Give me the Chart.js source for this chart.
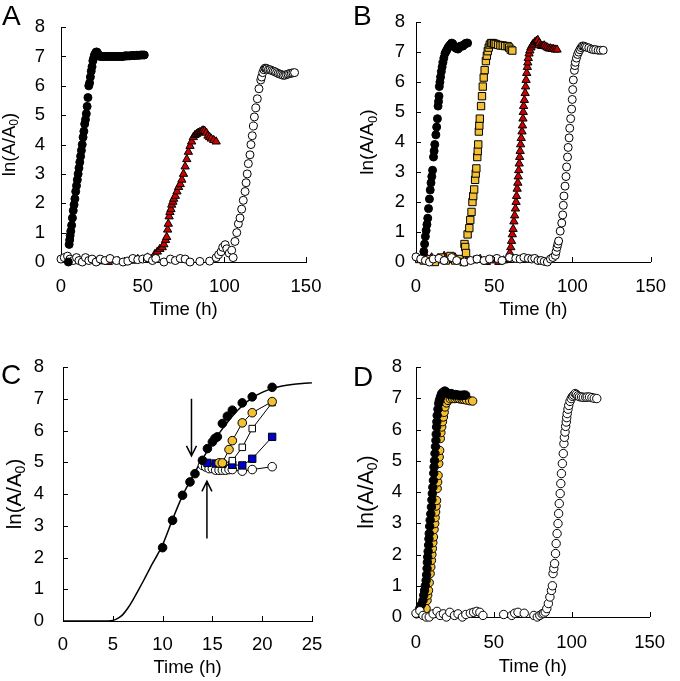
<!DOCTYPE html>
<html>
<head>
<meta charset="utf-8">
<script src="https://cdn.jsdelivr.net/npm/chart.js@4.4.1/dist/chart.umd.min.js"></script>
<style>
  body { margin: 0; background: #fff; width: 680px; height: 681px; position: relative; overflow: hidden;
         font-family: "Liberation Sans", Arial, sans-serif; }
  canvas { position: absolute; }
  .lab { position: absolute; font-size: 28px; line-height: 28px; color: #000; }
</style>
</head>
<body>
<canvas id="cA" width="340" height="330" style="left:0;top:0"></canvas>
<canvas id="cB" width="340" height="330" style="left:340px;top:0"></canvas>
<canvas id="cC" width="340" height="351" style="left:0;top:330px"></canvas>
<canvas id="cD" width="340" height="351" style="left:340px;top:330px"></canvas>
<div class="lab" style="left:2px;top:2px">A</div>
<div class="lab" style="left:353px;top:2px">B</div>
<div class="lab" style="left:1px;top:361px">C</div>
<div class="lab" style="left:353px;top:363px">D</div>
<script>
// ---- panel A ----
var aBlackT = [4.5,5,5.3,5.6,6,6.5,7,7.5,8,8.5,9,9.5,10,10.5,11,11.5,12,12.5,13,13.5,14,14.5,15,15.5,16,16.5,17,17.5,18,18.5,19,19.5,20,20.5,21,21.5,22,22.5,23,24,25,26,27,28,29,30,31,32,33,34,35,36,37,38,39,40,41,42,43,44,45,46,47,48,49,50,51];
var aBlackV = [0,0.6,0.75,0.9,1.05,1.25,1.5,1.75,1.95,2.15,2.4,2.6,2.8,3.0,3.2,3.4,3.6,3.8,4.0,4.25,4.45,4.7,4.85,5.05,5.3,5.6,6.0,6.1,6.3,6.5,6.65,6.85,6.95,7.05,7.1,7.15,7.15,7.1,7.05,7,7,7,7,7,7,7,7,7,7,7,7,7,7,7,7.02,7.02,7.02,7.02,7.03,7.03,7.03,7.04,7.04,7.04,7.05,7.05,7.05];
var aRedT = [24,29,35,39,43.5,47,50,53,55.5,57.5,59,60.5,62,63,64,64.7,65.3,65.7,66.2,66.7,67.3,67.8,68.5,69,70,71,72,73,74,75,76,77,78,79,80,81,82,83,84,85,86,87,88,89,90,91,92,93.5,95];
var aRedV = [0.02,0,0.03,0,0.04,0.1,0.08,0.15,0.1,0.27,0.35,0.44,0.5,0.6,0.75,0.85,1.1,1.3,1.55,1.7,1.8,1.95,2.05,2.15,2.25,2.4,2.55,2.65,2.8,3.0,3.25,3.5,3.75,3.95,4.1,4.25,4.32,4.36,4.4,4.42,4.45,4.48,4.46,4.4,4.3,4.25,4.2,4.15,4.1];
var aOpenT = [0,2,4,5.5,7.5,9.5,11,13,15,17,19,21.5,24,27,30,34,38,41,44,47,50,53,56,58,63,67,70,73,76,79,85,91,95,96.5,98,99,
  100.5,101.5,103,104.5,105.4,106.5,107.6,108.6,109.6,110.6,111.6,112.7,113.3,114,114.7,115.7,116.3,117.1,117.8,118.4,119.3,120.2,121.2,122.3,122.8,123.5,124.2,124.9,125.5,126,127,128,129,130,131,132,133,134,135,136,137,138,139,140,141,142,143];
var aOpenV = [0.1,0.15,0.2,0.1,0.05,0.15,0.05,0,0.15,0.05,0.1,0,0.1,0.05,0.12,0.05,0,0.03,0.12,0.08,0.1,0.15,0.05,0.12,0,0.1,0.05,0.12,0.1,0,0.02,0.03,0.15,0.25,0.35,0.5,
  0.59,0.45,0.3,0.4,0.15,0.7,1.0,1.3,1.5,1.8,2.1,2.4,2.7,3.0,3.35,3.65,4.0,4.3,4.63,4.94,5.25,5.56,5.9,6.2,6.3,6.45,6.55,6.6,6.6,6.58,6.55,6.55,6.52,6.5,6.48,6.45,6.42,6.4,6.38,6.36,6.36,6.38,6.4,6.42,6.43,6.44,6.45];

// ---- panel B ----
var bBlackT = [4.5,5,5.5,6,6.5,7,7.5,8,8.6,9.1,9.6,10.1,10.6,11.2,11.6,12,12.7,13.2,13.7,14.1,14.4,14.7,14.9,15.3,15.7,16.2,16.7,17.2,17.8,18.5,19.2,19.8,20.5,21.2,22,22.8,23.5,24.2,25,25.9,26.8,27.6,28.4,29.2,30,30.8,31.6,32.4,33];
var bBlackV = [0.12,0.35,0.6,0.85,1.05,1.25,1.46,1.78,2.1,2.4,2.64,2.85,3.06,3.5,3.7,3.92,4.24,4.5,4.78,5.2,5.35,5.53,5.85,6.0,6.17,6.35,6.5,6.65,6.8,6.95,7.02,7.08,7.15,7.2,7.25,7.3,7.28,7.2,7.15,7.12,7.1,7.15,7.2,7.2,7.2,7.25,7.28,7.3,7.3];
var bYellowT = [2,5,8,12,16,19,22,25,28,30.5,31,31.5,32,33,34.1,34.7,35.5,36.1,36.6,37.2,37.8,38.2,38.6,39.2,39.5,39.8,40.2,40.5,40.8,41.6,42.2,42.7,43.3,43.9,44.7,45.3,45.9,46.5,47.2,48,49,50,51,52.5,54,55.5,57,58.6,59.6,60.6,61.6];
var bYellowV = [0.1,0.05,0.1,0,0.15,0.05,0.2,0.05,0.1,0,0.6,0.5,0.3,0.92,1.13,1.4,1.67,2.0,2.2,2.42,2.74,2.95,3.12,3.5,3.7,3.92,4.35,4.55,4.78,5.2,5.53,5.85,6.15,6.4,6.7,6.88,7.03,7.15,7.25,7.3,7.3,7.28,7.27,7.24,7.22,7.22,7.2,7.2,7.15,7.08,7.05];
var bRedT = [3,6,10,14,18,21,25,29,33,37,41,45,49,53,56,58.5,60,60.6,61.1,61.6,62.1,62.6,63.1,63.6,64,64.3,64.7,65.1,65.4,65.7,66,66.3,66.6,66.9,67.3,67.8,68.1,68.4,68.6,68.8,69.3,69.8,70.1,70.4,70.8,71.2,71.5,71.8,72.3,72.8,73.5,74.2,75,76,77,77.9,78.8,79.7,80.5,81.3,82,83,84,85,86,87,88,89,90.2];
var bRedV = [0.1,0.2,0.15,0.05,0.2,0.1,0.15,0.05,0.1,0.05,0.1,0,0.05,0,0.05,0.1,0.3,0.49,0.7,0.92,1.1,1.35,1.55,1.78,2.0,2.2,2.44,2.64,2.85,3.06,3.28,3.5,3.7,3.92,4.13,4.35,4.55,4.78,5.0,5.2,5.4,5.63,5.85,6.07,6.3,6.5,6.65,6.8,6.95,7.05,7.15,7.22,7.28,7.33,7.37,7.4,7.3,7.22,7.2,7.2,7.22,7.18,7.15,7.12,7.12,7.1,7.1,7.08,7.08];
var bOpenT = [0,3,6,8.6,11,14.7,18,22.8,26,31,35,39,43.5,47,51.7,55,59.8,63.8,66.5,69,71.8,74,75.9,78,80,82,84,86,87.5,
  89.1,89.6,90.2,90.7,91.2,92.2,93.2,93.8,94.2,94.6,95.3,95.9,96.3,96.9,97.3,97.9,98.3,98.9,99.5,99.9,100.2,100.6,101.3,101.6,101.9,102.6,103.3,104,104.8,105.6,106.4,107.2,108,109,110.5,112,113.5,115,116.5,118,119.7];
var bOpenV = [0.17,0.1,0.05,0,0.1,0.12,0.05,0.15,0.05,0,0.05,0.1,0.05,0.1,0.12,0.05,0.15,0.12,0.1,0.15,0.12,0.1,0.12,0.05,0.05,0.02,0,0.1,0.15,
  0.22,0.35,0.49,0.6,0.7,1.03,1.3,1.57,1.89,2.2,2.53,2.85,3.17,3.5,3.82,4.14,4.46,4.78,5.1,5.42,5.75,6.07,6.39,6.55,6.66,6.8,6.92,7.0,7.08,7.15,7.2,7.2,7.18,7.16,7.14,7.1,7.08,7.08,7.06,7.06,7.06];

// ---- panel C ----
var cFitT = [0,4,5,5.5,6,6.5,7,7.5,8,8.5,9,9.5,10,11,12,13,14,15,16,17,18,19,20,21,22,23,24,25];
var cFitV = [0,0,0.02,0.08,0.2,0.4,0.65,0.93,1.22,1.52,1.82,2.1,2.4,3.2,3.95,4.55,5.1,5.6,6.05,6.45,6.78,7.03,7.2,7.32,7.4,7.45,7.48,7.5];
var cBlackT = [10,11,12,12.75,13.25,14,14.5,15,15.25,15.5,16,16.5,17,18,19,21];
var cBlackV = [2.31,3.17,3.96,4.38,4.64,5.06,5.43,5.64,5.75,5.8,6.22,6.45,6.64,6.87,7.06,7.36];
var cYellowT = [15.67,16,16.67,17,18,19,21];
var cYellowV = [4.98,4.98,5.4,5.68,6.24,6.56,6.91];
var cSqT = [16,17,18,19,21];
var cSqV = [4.95,5.05,5.47,6.06,6.88];
var cBlueT = [14.5,15.33,16,17,18,19,21];
var cBlueV = [4.98,4.96,4.95,4.92,4.9,5.11,5.8];
var cOpenT = [14,14.33,14.67,15,15.33,15.67,16,16.33,16.67,17,18,19,21];
var cOpenV = [4.9,4.85,4.8,4.8,4.75,4.75,4.75,4.75,4.77,4.77,4.72,4.77,4.86];
var arrowT = [12.9, 14.45];
var arrowFrom = [7.0, 2.6];
var arrowTo = [5.2, 4.4];

// ---- panel D ----
var dBlackT = [2.4,3.5,4.5,5,5.5,6,6.5,6.8,7.1,7.3,7.5,7.8,8.1,8.3,8.5,8.8,9.1,9.5,9.9,10.2,10.5,10.8,11.2,11.4,11.6,11.9,12.2,12.5,12.8,13,13.2,13.4,13.6,14.1,14.6,15,15.5,16,16.5,17.5,18.5,19.5,20.5,21.6,22.7,24,25.3,26.5,27.8,29,30,31,31.9];
var dBlackV = [0.27,0.4,0.53,0.7,0.85,1.0,1.17,1.35,1.55,1.75,1.92,2.1,2.3,2.5,2.67,2.9,3.1,3.3,3.52,3.75,3.95,4.15,4.37,4.6,4.8,5.0,5.23,5.45,5.65,5.85,6.08,6.25,6.45,6.65,6.83,6.92,7.0,7.08,7.15,7.2,7.23,7.2,7.15,7.12,7.15,7.1,7.12,7.1,7.1,7.08,7.1,7.1,7.1];
var dYellowT = [0.3,6.5,7.1,7.5,8,8.5,9.1,9.5,9.9,10.2,10.5,10.8,11.2,11.6,12,12.3,12.6,12.9,13.2,13.6,13.9,14.2,14.6,14.9,15.2,15.6,16,16.5,17,17.6,18.1,18.6,19.5,20.6,22,23.5,25,26.5,28,29.5,30.8,32.5,34.5,36.4];
var dYellowV = [0.1,0.27,0.53,0.7,0.85,1.1,1.39,1.6,1.81,2.0,2.19,2.38,2.56,2.8,2.99,3.18,3.36,3.55,3.73,4.11,4.32,4.53,4.91,5.12,5.33,5.71,5.9,6.08,6.25,6.4,6.55,6.72,6.85,6.93,6.98,6.99,6.99,7.0,6.98,6.97,6.96,6.94,6.92,6.91];
var dOpenT = [0,2.5,4.5,6.5,8.5,11,13.5,15.5,17.6,19.5,21.7,24.7,27,29.8,32,34.9,37,39,41,43,56.3,61.5,63.4,65.5,69.5,75.7,77.9,79.5,81,82,83,
  84,85,86,87,87.6,88,88.5,89,89.6,90,90.6,91.2,91.6,92,92.6,93,93.4,94,94.6,95,95.3,95.7,96.1,96.5,96.8,97.1,97.6,98.1,98.9,99.7,100.5,101.3,102.2,103,104,105,106.3,107.5,109,110,111.4,113,114.5,116.1];
var dOpenV = [0.12,0.2,0.05,0,0,0.1,0.18,0.05,0.1,0,0.15,0.05,0.1,0,0.08,0.12,0.15,0.18,0.15,0.05,0.08,0.05,0.12,0.15,0.12,0.05,0,0.05,0.1,0.12,0.16,
  0.27,0.43,0.64,0.85,1.0,1.39,1.55,1.71,2.03,2.35,2.67,2.99,3.31,3.63,3.95,4.27,4.59,4.91,5.23,5.55,5.75,5.92,6.1,6.24,6.38,6.51,6.65,6.77,6.9,6.99,7.06,7.1,7.15,7.12,7.08,7.05,7.04,7.03,7.03,7.04,7.04,7.02,7.0,6.99];

var yTicks = [0, 1, 2, 3, 4, 5, 6, 7, 8];

var RED = 'rgb(206,0,0)', YELLOW = 'rgb(242,192,50)', BLUE = 'rgb(0,0,204)';
var FAMILY = '"Liberation Sans", Arial, sans-serif';
var tickFont = { family: FAMILY, size: 18.5 };

function pts(t, v) {
  return t.map(function (x, i) { return { x: x, y: v[i] }; });
}

function marks(t, v, style, fill, r, line) {
  return {
    data: pts(t, v),
    showLine: !!line,
    borderColor: '#000',
    borderWidth: 1,
    pointStyle: style,
    pointRadius: r,
    pointBackgroundColor: fill,
    pointBorderColor: '#000',
    pointBorderWidth: 1,
    clip: false
  };
}

// short tick marks pointing into the plot
var inTicks = {
  id: 'inTicks',
  afterDatasetsDraw: function (chart) {
    var c = chart.ctx, a = chart.chartArea, xs = chart.scales.x, ys = chart.scales.y;
    c.save();
    c.strokeStyle = '#000';
    c.lineWidth = 1;
    c.beginPath();
    ys.ticks.forEach(function (t) {
      if (t.value === 0) return;
      var y = Math.round(ys.getPixelForValue(t.value)) + 0.5;
      c.moveTo(a.left, y); c.lineTo(a.left + 5, y);
    });
    xs.ticks.forEach(function (t) {
      if (t.value === 0) return;
      var x = Math.round(xs.getPixelForValue(t.value)) + 0.5;
      c.moveTo(x, a.bottom); c.lineTo(x, a.bottom - 5);
    });
    c.stroke();
    c.restore();
  }
};

// y title with a real subscript
function yTitle(xc, size) {
  return {
    id: 'yTitle',
    afterDraw: function (chart) {
      var c = chart.ctx, a = chart.chartArea, yc = (a.top + a.bottom) / 2;
      var big = size + 'px ' + FAMILY, small = Math.round(size * 0.66) + 'px ' + FAMILY;
      c.save();
      c.translate(xc, yc);
      c.rotate(-Math.PI / 2);
      c.fillStyle = '#000';
      c.textBaseline = 'middle';
      c.textAlign = 'left';
      c.font = big;
      var w1 = c.measureText('ln(A/A').width, w3 = c.measureText(')').width;
      c.font = small;
      var w2 = c.measureText('0').width;
      var x0 = -(w1 + w2 + w3) / 2;
      c.font = big; c.fillText('ln(A/A', x0, 0);
      c.font = small; c.fillText('0', x0 + w1, size * 0.28);
      c.font = big; c.fillText(')', x0 + w1 + w2, 0);
      c.restore();
    }
  };
}

// the two arrows of panel C
var arrows = {
  id: 'arrows',
  afterDatasetsDraw: function (chart) {
    var c = chart.ctx, xs = chart.scales.x, ys = chart.scales.y;
    c.save();
    c.strokeStyle = '#000';
    c.lineWidth = 1.5;
    for (var i = 0; i < arrowT.length; i++) {
      var x = xs.getPixelForValue(arrowT[i]);
      var y0 = ys.getPixelForValue(arrowFrom[i]), y1 = ys.getPixelForValue(arrowTo[i]);
      var dir = y1 > y0 ? 1 : -1;
      c.beginPath();
      c.moveTo(x, y0); c.lineTo(x, y1);
      c.moveTo(x - 5, y1 - dir * 10); c.lineTo(x, y1); c.lineTo(x + 5, y1 - dir * 10);
      c.stroke();
    }
    c.restore();
  }
};

function panel(id, cfg) {
  return new Chart(document.getElementById(id), {
    type: 'scatter',
    data: { datasets: cfg.datasets },
    options: {
      responsive: false,
      animation: false,
      events: [],
      layout: { padding: cfg.pad },
      plugins: { legend: { display: false }, tooltip: { enabled: false } },
      scales: {
        x: {
          type: 'linear', min: 0, max: cfg.xMax,
          ticks: { stepSize: cfg.xStep, padding: cfg.xPad, font: tickFont, color: '#000', autoSkip: false, maxRotation: 0 },
          grid: { drawOnChartArea: false, drawTicks: false },
          border: { color: '#000', width: 1 },
          title: { display: true, text: 'Time (h)', font: tickFont, color: '#000', padding: 0 },
          afterFit: function (s) { s.height = cfg.xH; }
        },
        y: {
          type: 'linear', min: 0, max: 8,
          afterBuildTicks: function (s) { s.ticks = yTicks.map(function (v) { return { value: v }; }); },
          ticks: { padding: cfg.yPad, font: tickFont, color: '#000', autoSkip: false },
          grid: { drawOnChartArea: false, drawTicks: false },
          border: { color: '#000', width: 1 },
          afterFit: function (s) { s.width = cfg.yW; }
        }
      }
    },
    plugins: [inTicks, yTitle(cfg.yTitleX, cfg.yTitleSize)].concat(cfg.extra || [])
  });
}

panel('cA', {
  xMax: 150, xStep: 50, xPad: 14, xH: 59, yW: 61, yPad: 16, yTitleX: 10, yTitleSize: 18.5,
  pad: { top: 10, left: 0, right: 34, bottom: 9 },
  datasets: [
    marks(aBlackT, aBlackV, 'circle', '#000', 4),
    marks(aOpenT, aOpenV, 'circle', '#fff', 4),
    marks(aRedT, aRedV, 'triangle', RED, 4.8)
  ]
});

panel('cB', {
  xMax: 150, xStep: 50, xPad: 14, xH: 59, yW: 76, yPad: 11, yTitleX: 28, yTitleSize: 19,
  pad: { top: 13, left: 0, right: 18, bottom: 9 },
  datasets: [
    marks(bOpenT, bOpenV, 'circle', '#fff', 4),
    marks(bBlackT, bBlackV, 'circle', '#000', 4),
    marks(bYellowT, bYellowV, 'rect', YELLOW, 5.2),
    marks(bRedT, bRedV, 'triangle', RED, 4.8)
  ]
});

panel('cC', {
  xMax: 25, xStep: 5, xPad: 13, xH: 58, yW: 63, yPad: 19, yTitleX: 15, yTitleSize: 20.5,
  pad: { top: 37, left: 0, right: 28, bottom: 2 },
  extra: [arrows],
  datasets: [
    marks(cBlackT, cBlackV, 'circle', '#000', 4.3),
    marks(cYellowT, cYellowV, 'circle', YELLOW, 4.3, true),
    marks(cSqT, cSqV, 'rect', '#fff', 4.6, true),
    marks(cBlueT, cBlueV, 'rect', BLUE, 5.2, true),
    marks(cOpenT, cOpenV, 'circle', '#fff', 4.3, true),
    {
      type: 'line', data: pts(cFitT, cFitV), borderColor: '#000', borderWidth: 1.5,
      pointRadius: 0, cubicInterpolationMode: 'monotone', fill: false, clip: false
    }
  ]
});

panel('cD', {
  xMax: 150, xStep: 50, xPad: 15, xH: 61, yW: 76, yPad: 14, yTitleX: 27, yTitleSize: 21.5,
  pad: { top: 37, left: 0, right: 17, bottom: 3 },
  datasets: [
    marks(dOpenT, dOpenV, 'circle', '#fff', 4.2),
    marks(dBlackT, dBlackV, 'circle', '#000', 4.2),
    marks(dYellowT, dYellowV, 'circle', YELLOW, 4.2)
  ]
});
</script>
</body>
</html>
